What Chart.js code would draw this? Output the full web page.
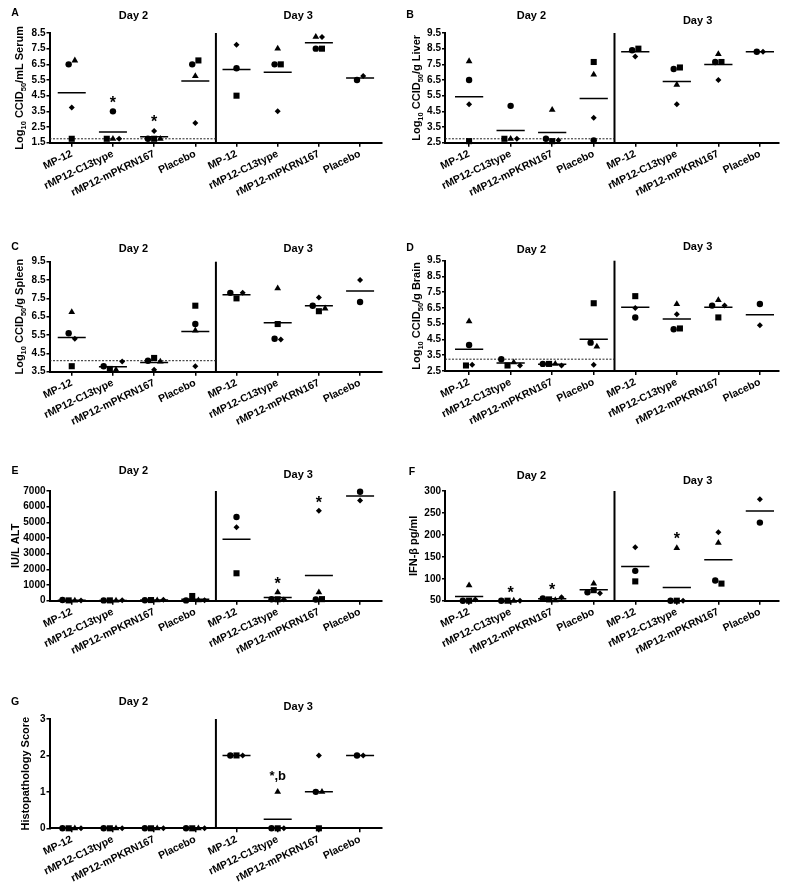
<!DOCTYPE html>
<html>
<head>
<meta charset="utf-8">
<title>Day 2 / Day 3 dot plots</title>
<script src="https://cdn.jsdelivr.net/npm/chart.js@4.4.1/dist/chart.umd.min.js"></script>
<style>
  html, body { margin: 0; padding: 0; background: #fff; }
  #fig { position: relative; width: 789px; height: 896px; overflow: hidden; }
  #fig canvas { position: absolute; }
</style>
</head>
<body>
<div id="fig">
  <canvas id="panelA" width="395" height="230" style="left:0;top:0"></canvas>
  <canvas id="panelB" width="394" height="230" style="left:395px;top:0"></canvas>
  <canvas id="panelC" width="395" height="230" style="left:0;top:215px"></canvas>
  <canvas id="panelD" width="394" height="230" style="left:395px;top:215px"></canvas>
  <canvas id="panelE" width="395" height="230" style="left:0;top:430px"></canvas>
  <canvas id="panelF" width="394" height="230" style="left:395px;top:430px"></canvas>
  <canvas id="panelG" width="395" height="251" style="left:0;top:645px"></canvas>
</div>
<script>
const GROUPS = ['MP-12', 'rMP12-C13type', 'rMP12-mPKRN167', 'Placebo',
                'MP-12', 'rMP12-C13type', 'rMP12-mPKRN167', 'Placebo'];
const DAYS = ['Day 2', 'Day 3'];

// one value per group for each animal (marker shape); null = no animal
// A - serum
const A_circle   = [6.5, 3.5, 1.75, 6.5, 6.25, 6.5, 7.5, 5.5];
const A_square   = [1.75, 1.75, 1.75, 6.75, 4.5, 6.5, 7.5, null];
const A_triangle = [6.75, 1.75, 1.75, 5.75, null, 7.5, 8.25, null];
const A_diamond  = [3.75, 1.75, 2.25, 2.75, 7.75, 3.5, 8.25, 5.75];
const A_ticks = [1.5, 2.5, 3.5, 4.5, 5.5, 6.5, 7.5, 8.5];
const A_lod = 1.75;
const A_stars = [[1, 4.3, '*'], [2, 3.1, '*']];

// B - liver
const B_circle   = [6.5, 4.85, 2.75, 2.65, 8.4, 7.2, 7.65, 8.3];
const B_square   = [2.6, 2.75, 2.6, 7.65, 8.5, 7.3, 7.65, null];
const B_triangle = [7.7, 2.75, 4.6, 6.85, null, 6.2, 8.15, null];
const B_diamond  = [4.95, 2.75, 2.65, 4.1, 8.0, 4.95, 6.5, 8.3];
const B_ticks = [2.5, 3.5, 4.5, 5.5, 6.5, 7.5, 8.5, 9.5];
const B_lod = 2.75;

// C - spleen
const C_circle   = [5.6, 3.8, 4.1, 6.1, 7.8, 5.3, 7.1, 7.3];
const C_square   = [3.8, 3.65, 4.25, 7.1, 7.5, 6.1, 6.8, null];
const C_triangle = [6.75, 3.6, 4.05, 5.75, null, 8.05, 6.95, null];
const C_diamond  = [5.3, 4.05, 3.6, 3.8, 7.8, 5.25, 7.55, 8.5];
const C_ticks = [3.5, 4.5, 5.5, 6.5, 7.5, 8.5, 9.5];
const C_lod = 4.1;

// D - brain
const D_circle   = [4.15, 3.25, 2.95, 4.3, 5.9, 5.15, 6.65, 6.75];
const D_square   = [2.85, 2.85, 2.95, 6.8, 7.25, 5.2, 5.9, null];
const D_triangle = [5.65, 3.05, 2.95, 4.05, null, 6.75, 7.0, null];
const D_diamond  = [2.9, 2.85, 2.85, 2.9, 6.5, 6.1, 6.65, 5.4];
const D_ticks = [2.5, 3.5, 4.5, 5.5, 6.5, 7.5, 8.5, 9.5];
const D_lod = 3.25;

// E - ALT
const E_circle   = [40, 20, 30, 20, 5340, 90, 80, 6950];
const E_square   = [20, 20, 40, 300, 1750, 90, 100, null];
const E_triangle = [10, 10, 20, 20, null, 530, 530, null];
const E_diamond  = [20, 30, 60, 30, 4680, 80, 5740, 6400];
const E_ticks = [0, 1000, 2000, 3000, 4000, 5000, 6000, 7000];
const E_stars = [[5, 1350, '*'], [6, 6500, '*']];

// F - IFN-beta
const F_circle   = [50, 50, 55, 69, 118, 50, 96, 228];
const F_square   = [50, 50, 53, 74, 94, 50, 89, null];
const F_triangle = [85, 50, 51, 89, null, 170, 182, null];
const F_diamond  = [53, 50, 58, 67, 172, 50, 206, 281];
const F_ticks = [50, 100, 150, 200, 250, 300];
const F_stars = [[1, 78, '*'], [2, 84, '*'], [5, 200, '*']];

// G - histopathology
const G_circle   = [0, 0, 0, 0, 2, 0, 1, 2];
const G_square   = [0, 0, 0, 0, 2, 0, 0, null];
const G_triangle = [0, 0, 0, 0, null, 1, 1, null];
const G_diamond  = [0, 0, 0, 0, 2, 0, 2, 2];
const G_ticks = [0, 1, 2, 3];
const G_stars = [[5, 1.45, '*,b']];

const FONT = '"Liberation Sans", Arial, Helvetica, sans-serif';
Chart.defaults.font.family = FONT;
Chart.defaults.color = '#000';

const SHAPES = [
  { key: 'circle', style: 'circle', r: 3.2 },
  { key: 'square', style: 'rect', r: 4.3 },
  { key: 'triangle', style: 'triangle', r: 3.9 },
  { key: 'diamond', style: 'rectRot', r: 3 }
];

// spread points of a group that would overlap, like the original dot plot
function spread(series, lo, hi) {
  const thr = (hi - lo) * 0.055;
  const off = {};
  SHAPES.forEach(s => off[s.key] = []);
  for (let i = 0; i < GROUPS.length; i++) {
    const pts = SHAPES.map((s, n) => ({ k: s.key, n: n, v: series[s.key][i] }))
      .filter(p => p.v !== null);
    pts.sort((a, b) => a.v - b.v);
    const clusters = [];
    pts.forEach(p => {
      const last = clusters[clusters.length - 1];
      if (last && p.v - last[last.length - 1].v < thr) last.push(p);
      else clusters.push([p]);
    });
    clusters.forEach(c => {
      c.sort((a, b) => a.n - b.n);
      c.forEach((p, j) => off[p.k][i] = (j - (c.length - 1) / 2) * 0.15);
    });
  }
  return off;
}

function richParts(str) {
  const parts = [];
  str.split(/(_\{[^}]*\})/).forEach(s => {
    if (!s) return;
    if (s.startsWith('_{')) parts.push({ t: s.slice(2, -1), sub: true });
    else parts.push({ t: s, sub: false });
  });
  return parts;
}

const deco = {
  id: 'deco',
  afterDraw(chart, args, o) {
    const ctx = chart.ctx, xs = chart.scales.x, ys = chart.scales.y, a = chart.chartArea;
    ctx.save();
    ctx.fillStyle = '#000';
    ctx.textAlign = 'center';
    ctx.textBaseline = 'middle';
    ctx.font = 'bold 10.5px ' + FONT;
    ctx.fillText(o.letter, o.letterPos[0], o.letterPos[1]);
    ctx.font = 'bold 11px ' + FONT;
    ctx.fillText(DAYS[0], xs.getPixelForValue(1.5), o.dayY[0]);
    ctx.fillText(DAYS[1], xs.getPixelForValue(5.5), o.dayY[1]);

    // y axis title with subscripts
    const parts = richParts(o.title);
    const big = 'bold 11px ' + FONT, small = 'bold 7.5px ' + FONT;
    let total = 0;
    parts.forEach(p => { ctx.font = p.sub ? small : big; p.w = ctx.measureText(p.t).width; total += p.w; });
    ctx.save();
    ctx.translate(o.titleX, (a.top + a.bottom) / 2);
    ctx.rotate(-Math.PI / 2);
    ctx.textAlign = 'left';
    ctx.textBaseline = 'alphabetic';
    let cx = -total / 2;
    parts.forEach(p => {
      ctx.font = p.sub ? small : big;
      ctx.fillText(p.t, cx, p.sub ? 6.5 : 4);
      cx += p.w;
    });
    ctx.restore();

    // significance marks
    (o.stars || []).forEach(([x, y, t]) => {
      const size = t === '*' ? 16 : 13;
      ctx.font = 'bold ' + size + 'px ' + FONT;
      ctx.textAlign = 'center';
      ctx.textBaseline = 'alphabetic';
      const shift = t === '*' ? 0.58 * size : 0.36 * size;
      ctx.fillText(t, xs.getPixelForValue(x), ys.getPixelForValue(y) + shift);
    });
    ctx.restore();
  }
};

function makePanel(cfg) {
  const series = { circle: cfg.circle, square: cfg.square, triangle: cfg.triangle, diamond: cfg.diamond };
  const lo = cfg.ticks[0], hi = cfg.ticks[cfg.ticks.length - 1];
  const off = spread(series, lo, hi);
  const datasets = [];

  SHAPES.forEach(s => {
    const pts = [];
    series[s.key].forEach((v, i) => { if (v !== null) pts.push({ x: i + off[s.key][i], y: v }); });
    datasets.push({
      data: pts, pointStyle: s.style, pointRadius: s.r, pointHoverRadius: s.r,
      backgroundColor: '#000', borderColor: '#000', pointBorderWidth: 0, showLine: false, clip: false
    });
  });

  // group means
  const means = [];
  GROUPS.forEach((g, i) => {
    const vals = SHAPES.map(s => series[s.key][i]).filter(v => v !== null);
    const m = vals.reduce((p, q) => p + q, 0) / vals.length;
    means.push({ x: i - 0.34, y: m }, { x: i + 0.34, y: m }, { x: i + 0.5, y: null });
  });
  datasets.push({ data: means, showLine: true, spanGaps: false, borderColor: '#000', borderWidth: 1.5, pointRadius: 0 });

  if (cfg.lod !== undefined) {
    datasets.push({ data: [{ x: cfg.xr[0], y: cfg.lod }, { x: 3.5, y: cfg.lod }], showLine: true,
      borderColor: '#222', borderWidth: 1, borderDash: [2, 1.5], pointRadius: 0 });
  }
  datasets.push({ data: [{ x: 3.5, y: lo }, { x: 3.5, y: hi }], showLine: true,
    borderColor: '#000', borderWidth: 2, pointRadius: 0, clip: false });

  const canvas = document.getElementById(cfg.id);
  const H = canvas.height, W = canvas.width;
  new Chart(canvas, {
    type: 'scatter',
    data: { datasets: datasets },
    options: {
      responsive: false,
      animation: false,
      events: [],
      layout: { padding: { left: 0, top: cfg.area[1], right: W - cfg.area[2], bottom: 0 } },
      plugins: {
        legend: { display: false },
        tooltip: { enabled: false },
        deco: { letter: cfg.letter, letterPos: cfg.letterPos, dayY: cfg.dayY,
                title: cfg.title, titleX: cfg.titleX, stars: cfg.stars }
      },
      scales: {
        x: {
          type: 'linear', min: cfg.xr[0], max: cfg.xr[1],
          afterBuildTicks: s => { s.ticks = GROUPS.map((g, i) => ({ value: i })); },
          afterFit: s => { s.height = H - cfg.area[3]; },
          ticks: { autoSkip: false, minRotation: 26, maxRotation: 26, padding: 1, color: '#000',
                   font: { size: 10.5, weight: 'bold' }, callback: v => GROUPS[v] },
          grid: { drawOnChartArea: false, drawTicks: true, tickLength: 4, color: '#000', lineWidth: 1.5 },
          border: { display: true, color: '#000', width: 2 }
        },
        y: {
          type: 'linear', min: lo, max: hi,
          afterBuildTicks: s => { s.ticks = cfg.ticks.map(v => ({ value: v })); },
          afterFit: s => { s.width = cfg.area[0]; },
          ticks: { padding: 1, color: '#000', font: { size: 10, weight: 'bold' }, callback: v => String(v) },
          grid: { drawOnChartArea: false, drawTicks: true, tickLength: 3, color: '#000', lineWidth: 1.5 },
          border: { display: true, color: '#000', width: 2 }
        }
      }
    },
    plugins: [deco]
  });
}

const XR_LEFT = [-0.54, 7.52];
const XR_RIGHT = [-0.58, 7.46];

makePanel({ id: 'panelA', letter: 'A', letterPos: [15, 13], dayY: [16, 16], titleX: 19,
  title: 'Log_{10} CCID_{50}/mL Serum', area: [49.5, 33, 381.5, 142.7], xr: XR_LEFT,
  circle: A_circle, square: A_square, triangle: A_triangle, diamond: A_diamond,
  ticks: A_ticks, lod: A_lod, stars: A_stars });
makePanel({ id: 'panelB', letter: 'B', letterPos: [15, 15], dayY: [16, 21], titleX: 21,
  title: 'Log_{10} CCID_{50}/g Liver', area: [50, 33, 384, 142.7], xr: XR_RIGHT,
  circle: B_circle, square: B_square, triangle: B_triangle, diamond: B_diamond,
  ticks: B_ticks, lod: B_lod });
makePanel({ id: 'panelC', letter: 'C', letterPos: [15, 32], dayY: [33.5, 34], titleX: 19,
  title: 'Log_{10} CCID_{50}/g Spleen', area: [49.5, 46.7, 381.5, 156.7], xr: XR_LEFT,
  circle: C_circle, square: C_square, triangle: C_triangle, diamond: C_diamond,
  ticks: C_ticks, lod: C_lod });
makePanel({ id: 'panelD', letter: 'D', letterPos: [15, 33], dayY: [34.5, 32], titleX: 21,
  title: 'Log_{10} CCID_{50}/g Brain', area: [50, 45.7, 384, 156], xr: XR_RIGHT,
  circle: D_circle, square: D_square, triangle: D_triangle, diamond: D_diamond,
  ticks: D_ticks, lod: D_lod });
makePanel({ id: 'panelE', letter: 'E', letterPos: [15, 41], dayY: [41, 45], titleX: 15,
  title: 'IU/L ALT', area: [49.5, 61, 381.5, 170.7], xr: XR_LEFT,
  circle: E_circle, square: E_square, triangle: E_triangle, diamond: E_diamond,
  ticks: E_ticks, stars: E_stars });
makePanel({ id: 'panelF', letter: 'F', letterPos: [17, 42], dayY: [46, 51], titleX: 18,
  title: 'IFN-β pg/ml', area: [50, 61, 384, 170.7], xr: XR_RIGHT,
  circle: F_circle, square: F_square, triangle: F_triangle, diamond: F_diamond,
  ticks: F_ticks, stars: F_stars });
makePanel({ id: 'panelG', letter: 'G', letterPos: [15, 57], dayY: [57, 62], titleX: 25,
  title: 'Histopathology Score', area: [49.5, 74, 381.5, 183.3], xr: XR_LEFT,
  circle: G_circle, square: G_square, triangle: G_triangle, diamond: G_diamond,
  ticks: G_ticks, stars: G_stars });
</script>
</body>
</html>
